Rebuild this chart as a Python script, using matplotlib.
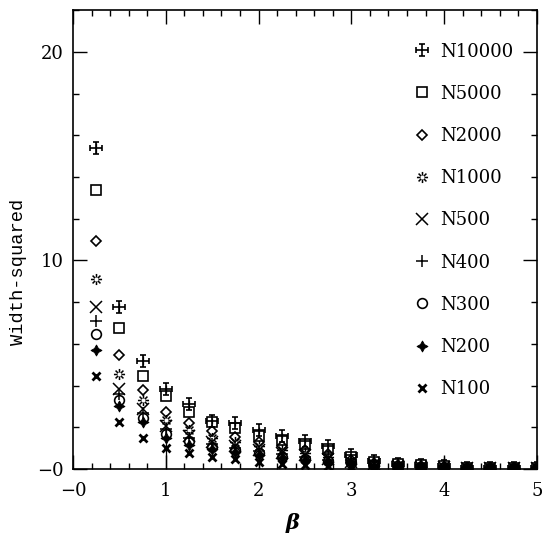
import matplotlib
matplotlib.use('Agg')
import matplotlib.pyplot as plt
from matplotlib.path import Path
import numpy as np

beta = [0.25, 0.5, 0.75, 1.0, 1.25, 1.5, 1.75, 2.0, 2.25, 2.5,
        2.75, 3.0, 3.25, 3.5, 3.75, 4.0, 4.25, 4.5, 4.75, 5.0]

n10000 = [15.4, 7.75, 5.2, 3.85, 3.1, 2.3, 2.2, 1.85, 1.6, 1.35,
          1.1, 0.65, 0.4, 0.25, 0.2, 0.15, 0.04, 0.03, 0.03, 0.03]
n5000 = [13.4, 6.75, 4.45, 3.5, 2.75, 2.25, 1.95, 1.6, 1.4, 1.2,
         0.95, 0.6, 0.35, 0.25, 0.18, 0.15, 0.04, 0.03, 0.03, 0.03]
n2000 = [10.95, 5.45, 3.8, 2.75, 2.2, 1.8, 1.55, 1.3, 1.1, 0.9,
         0.7, 0.45, 0.3, 0.2, 0.15, 0.12, 0.03, 0.03, 0.03, 0.03]
n1000 = [9.1, 4.55, 3.3, 2.35, 1.85, 1.5, 1.3, 1.1, 0.9, 0.75,
         0.6, 0.4, 0.25, 0.2, 0.15, 0.1, 0.03, 0.03, 0.03, 0.03]
n500 = [7.75, 3.85, 2.9, 2.05, 1.6, 1.3, 1.1, 0.9, 0.75, 0.65,
        0.5, 0.35, 0.25, 0.15, 0.12, 0.1, 0.03, 0.03, 0.03, 0.03]
n400 = [7.1, 3.6, 2.7, 1.9, 1.5, 1.2, 1.0, 0.85, 0.7, 0.6,
        0.45, 0.3, 0.2, 0.15, 0.1, 0.08, 0.03, 0.03, 0.03, 0.03]
n300 = [6.45, 3.3, 2.45, 1.7, 1.35, 1.05, 0.9, 0.75, 0.6, 0.5,
        0.4, 0.3, 0.2, 0.12, 0.1, 0.08, 0.03, 0.03, 0.03, 0.03]
n200 = [5.7, 3.0, 2.25, 1.5, 1.15, 0.95, 0.8, 0.65, 0.55, 0.45,
        0.35, 0.25, 0.15, 0.1, 0.08, 0.06, 0.03, 0.03, 0.03, 0.03]
n100 = [4.45, 2.25, 1.5, 1.0, 0.75, 0.6, 0.5, 0.35, 0.25, 0.2,
        0.15, 0.1, 0.08, 0.06, 0.05, 0.04, 0.03, 0.03, 0.03, 0.03]

err_n10000 = [0.25, 0.2, 0.2, 0.2, 0.2, 0.15, 0.15, 0.15, 0.12, 0.12,
              0.1, 0.08, 0.06, 0.05, 0.05, 0.45, 0.02, 0.02, 0.02, 0.02]
err_n100 = [0.1, 0.1, 0.1, 1.0, 0.08, 0.08, 0.08, 0.4, 0.05, 0.05,
            0.05, 0.03, 0.03, 0.02, 0.02, 0.02, 0.02, 0.02, 0.02, 0.02]

labels = ["N10000", "N5000", "N2000", "N1000", "N500", "N400", "N300", "N200", "N100"]

# plus with end caps
cap_verts = [(0, -1), (0, 1), (-1, 0), (1, 0),
             (-0.5, 1), (0.5, 1), (-0.5, -1), (0.5, -1),
             (-1, -0.5), (-1, 0.5), (1, -0.5), (1, 0.5)]
cap_codes = [Path.MOVETO, Path.LINETO] * 6
cross_cap = Path(cap_verts, cap_codes)

# asterisk with open centre
ang = np.deg2rad(np.arange(0, 360, 45) + 90)
ast_verts, ast_codes = [], []
for a in ang:
    ast_verts += [(0.35 * np.cos(a), 0.35 * np.sin(a)), (np.cos(a), np.sin(a))]
    ast_codes += [Path.MOVETO, Path.LINETO]
open_ast = Path(ast_verts, ast_codes)

fig = plt.figure(figsize=(5.45, 5.33), dpi=100)
ax = fig.add_axes([0.134, 0.120, 0.851, 0.861])

series = [n10000, n5000, n2000, n1000, n500, n400, n300, n200, n100]
styles = [
    dict(marker=cross_cap, ms=8, mew=1.2, mfc='none'),
    dict(marker='s', ms=7, mew=1.2, mfc='none'),
    dict(marker='D', ms=5.5, mew=1.2, mfc='none'),
    dict(marker=open_ast, ms=8, mew=1.1, mfc='none'),
    dict(marker='x', ms=8, mew=1.1),
    dict(marker='+', ms=9, mew=1.1),
    dict(marker='o', ms=7, mew=1.2, mfc='none'),
    dict(marker=(4, 1, 0), ms=8, mew=0.6),
    dict(marker='x', ms=6, mew=2.0),
]
for ys, lab, st in zip(series, labels, styles):
    ax.plot(beta, ys, ls='none', color='black', mec='black', label=lab, **st)

ax.errorbar(beta, n10000, yerr=err_n10000, fmt='none', ecolor='black', elinewidth=0.9, capsize=0)
ax.errorbar(beta, n100, yerr=err_n100, fmt='none', ecolor='black', elinewidth=0.9, capsize=0)

ax.set_xlim(0, 5)
ax.set_ylim(0, 22)
ax.set_xticks([0, 1, 2, 3, 4, 5])
ax.set_xticklabels(['\u22120', '1', '2', '3', '4', '5'])
ax.set_xticks(np.arange(0, 5.01, 0.2), minor=True)
ax.set_yticks([0, 10, 20])
ax.set_yticklabels(['\u22120', '10', '20'])
ax.set_yticks(np.arange(0, 22.01, 2), minor=True)

ax.tick_params(which='both', direction='in', top=True, right=True, width=1.0)
ax.tick_params(which='major', length=10)
ax.tick_params(which='minor', length=4.5)
ax.tick_params(axis='x', which='major', pad=9)
ax.tick_params(axis='y', which='major', pad=7)
for lab in ax.get_xticklabels() + ax.get_yticklabels():
    lab.set_fontfamily('DejaVu Serif')
    lab.set_fontsize(13)
for sp in ax.spines.values():
    sp.set_linewidth(1.2)

ax.set_ylabel('Width-squared', fontfamily='Liberation Mono', fontsize=13.5)
ax.yaxis.set_label_coords(-0.099, 0.43)
ax.set_xlabel('\u03b2', fontfamily='DejaVu Serif',
              fontsize=15, fontweight='bold', fontstyle='italic')
ax.xaxis.set_label_coords(0.474, -0.095)

leg = ax.legend(loc='upper right', bbox_to_anchor=(0.965, 0.945), frameon=False,
                prop={'family': 'DejaVu Serif', 'size': 13},
                labelspacing=1.34, handlelength=0.9, handletextpad=0.55,
                borderaxespad=0, numpoints=1)

fig.savefig('out.png', dpi=100)
